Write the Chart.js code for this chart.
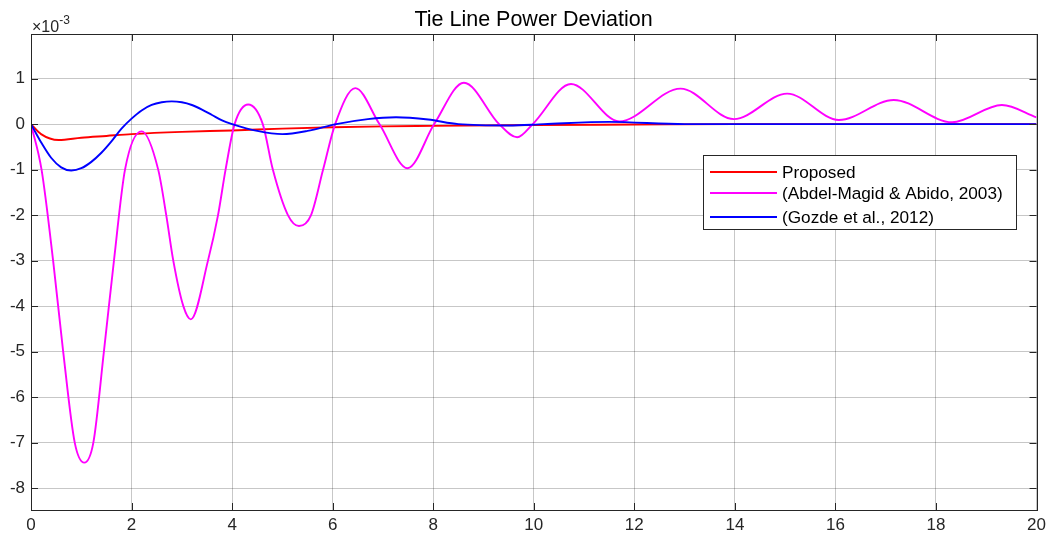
<!DOCTYPE html>
<html>
<head>
<meta charset="utf-8">
<script src="https://cdn.jsdelivr.net/npm/chart.js@4.4.1/dist/chart.umd.min.js"></script>
<style>
html,body{margin:0;padding:0;background:#fff;}
#wrap{width:1051px;height:538px;position:relative;}
</style>
</head>
<body>
<div id="wrap"><canvas id="c" width="1051" height="538"></canvas></div>
<script>
// Values in units of 1e-3
const seriesLabels = ["Proposed", "(Abdel-Magid & Abido, 2003)", "(Gozde et al., 2012)"];
const seriesColors = ["#ff0000", "#ff00ff", "#0000ff"];

const proposedT = [0, 0.2, 0.55, 1.0, 1.5, 2, 3, 4, 5, 6, 7, 8, 10, 12, 14, 20];
const proposedV = [0, -0.22, -0.35, -0.3, -0.26, -0.22, -0.17, -0.14, -0.1, -0.07, -0.05, -0.04, -0.02, -0.01, 0, 0];

const abdelT = [0, 0.21, 0.44, 0.64, 0.87, 1.06, 1.24, 1.45, 1.65, 1.87, 2.2, 2.53, 2.69, 2.83, 3.03, 3.18, 3.52, 3.72, 3.87, 4.05, 4.32, 4.61, 4.81, 5.11, 5.33, 5.57, 5.81, 6.05, 6.45, 6.93, 7.49, 8.02, 8.61, 9.31, 9.67, 9.98, 10.74, 11.7, 12.92, 13.98, 15.04, 16.07, 17.16, 18.32, 19.31, 20];
const abdelV = [0, -1, -3, -5, -7, -7.44, -7, -5, -3, -1, -0.16, -1, -2, -3, -4, -4.29, -3, -2, -1, 0, 0.43, 0, -1, -2, -2.24, -2, -1, 0, 0.79, 0, -0.97, 0, 0.91, 0, -0.29, 0, 0.88, 0.06, 0.78, 0.11, 0.67, 0.09, 0.53, 0.04, 0.42, 0.15];

const gozdeT = [0, 0.2, 0.4, 0.6, 0.8, 1.0, 1.2, 1.4, 1.6, 1.8, 2.0, 2.2, 2.4, 2.6, 2.8, 3.0, 3.2, 3.4, 3.6, 3.8, 4.0, 4.5, 5.0, 5.5, 6.07, 6.7, 7.26, 7.9, 8.5, 9.5, 10.2, 11.5, 13, 20];
const gozdeV = [0, -0.4, -0.74, -0.95, -1.02, -0.97, -0.83, -0.63, -0.38, -0.1, 0.12, 0.3, 0.42, 0.48, 0.5, 0.48, 0.42, 0.32, 0.2, 0.08, 0, -0.15, -0.22, -0.15, 0, 0.11, 0.15, 0.1, 0, -0.03, 0, 0.05, 0, 0];

const xTicks = [0, 2, 4, 6, 8, 10, 12, 14, 16, 18, 20];
const yTicks = [-8, -7, -6, -5, -4, -3, -2, -1, 0, 1];

const toXY = (ts, vs) => ts.map((t, i) => ({x: t, y: vs[i]}));

const FONT = "'Liberation Sans', Arial, Helvetica, sans-serif";
const TXT = "#262626";

const decor = {
  id: 'decor',
  afterDraw(chart) {
    const ctx = chart.ctx;
    const a = chart.chartArea;
    const xs = chart.scales.x, ys = chart.scales.y;
    ctx.save();
    // inward tick marks
    ctx.strokeStyle = TXT;
    ctx.lineWidth = 1;
    ctx.beginPath();
    xTicks.forEach(v => {
      const px = Math.round(xs.getPixelForValue(v)) + 0.5;
      ctx.moveTo(px, a.bottom); ctx.lineTo(px, a.bottom - 7);
      ctx.moveTo(px, a.top); ctx.lineTo(px, a.top + 7);
    });
    yTicks.forEach(v => {
      const py = Math.round(ys.getPixelForValue(v)) + 0.5;
      ctx.moveTo(a.left, py); ctx.lineTo(a.left + 7, py);
      ctx.moveTo(a.right, py); ctx.lineTo(a.right - 7, py);
    });
    ctx.stroke();
    // box
    ctx.strokeStyle = TXT;
    ctx.lineWidth = 1;
    ctx.strokeRect(Math.round(a.left) + 0.5, Math.round(a.top) + 0.5, Math.round(a.right - a.left), Math.round(a.bottom - a.top));
    // title
    ctx.fillStyle = "#000";
    ctx.font = "21.5px " + FONT;
    ctx.textAlign = "center";
    ctx.textBaseline = "middle";
    ctx.fillText("Tie Line Power Deviation", 533.5, 20);
    // exponent
    ctx.fillStyle = TXT;
    ctx.textAlign = "left";
    ctx.textBaseline = "alphabetic";
    ctx.font = "16px " + FONT;
    ctx.fillText("\u00d710", 32, 32);
    const w = ctx.measureText("\u00d710").width;
    ctx.font = "12px " + FONT;
    ctx.fillText("-3", 32 + w, 24);
    // legend
    const lx = 703.5, ly = 155.5, lw = 313, lh = 74;
    ctx.fillStyle = "#fff";
    ctx.fillRect(lx, ly, lw, lh);
    ctx.strokeStyle = TXT;
    ctx.lineWidth = 1;
    ctx.strokeRect(lx, ly, lw, lh);
    const rows = [172, 193, 217];
    ctx.font = "17.2px " + FONT;
    ctx.textBaseline = "middle";
    seriesLabels.forEach((lab, i) => {
      ctx.strokeStyle = seriesColors[i];
      ctx.lineWidth = 1.8;
      ctx.beginPath();
      ctx.moveTo(710, rows[i]); ctx.lineTo(777, rows[i]);
      ctx.stroke();
      ctx.fillStyle = "#000";
      ctx.fillText(lab, 782, rows[i] + 1);
    });
    ctx.restore();
  }
};

new Chart(document.getElementById('c'), {
  type: 'line',
  data: {
    datasets: [
      {label: seriesLabels[0], data: toXY(proposedT, proposedV), borderColor: seriesColors[0], order: 2},
      {label: seriesLabels[1], data: toXY(abdelT, abdelV), borderColor: seriesColors[1], order: 1},
      {label: seriesLabels[2], data: toXY(gozdeT, gozdeV), borderColor: seriesColors[2], order: 0}
    ].map(d => Object.assign(d, {borderWidth: 1.9, pointRadius: 0, fill: false, cubicInterpolationMode: 'monotone'}))
  },
  options: {
    responsive: false,
    animation: false,
    layout: {padding: {top: 34, right: 14, left: 0, bottom: 0}},
    plugins: {legend: {display: false}, tooltip: {enabled: false}, title: {display: false}},
    scales: {
      x: {
        type: 'linear', min: 0, max: 20,
        afterBuildTicks: s => { s.ticks = xTicks.map(v => ({value: v})); },
        afterFit: s => { s.height = 28; },
        grid: {color: 'rgba(0,0,0,0.22)', drawTicks: false, lineWidth: 1},
        border: {display: false},
        ticks: {color: TXT, font: {family: FONT, size: 17}, padding: 5, maxRotation: 0, autoSkip: false}
      },
      y: {
        type: 'linear', min: -8.48, max: 1.98,
        afterBuildTicks: s => { s.ticks = yTicks.map(v => ({value: v})); },
        afterFit: s => { s.width = 31; },
        grid: {color: 'rgba(0,0,0,0.22)', drawTicks: false, lineWidth: 1},
        border: {display: false},
        ticks: {color: TXT, font: {family: FONT, size: 17}, padding: 6, autoSkip: false}
      }
    }
  },
  plugins: [decor]
});
</script>
</body>
</html>
